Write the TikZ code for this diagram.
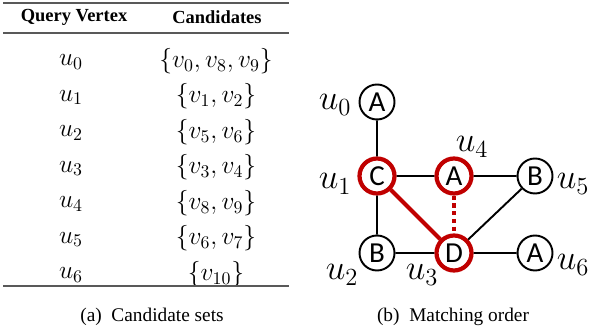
\RequirePackage{fix-cm}
\documentclass[tikz,border=0pt]{standalone}
\usepackage{fontspec}
\setmainfont{Liberation Serif}
\newfontfamily\nodefont{Carlito}
\usetikzlibrary{positioning,calc}
\definecolor{hitred}{RGB}{192,0,0}

\begin{document}
\begin{tikzpicture}[x=0.2mm,y=-0.2mm,
  vert/.style={circle,draw=black,line width=1.1pt,minimum size=7mm,inner sep=0pt,font=\nodefont\fontsize{16.5}{18}\selectfont},
  hit/.style={vert,draw=hitred,line width=2.4pt},
  lbl/.style={inner sep=0pt,font=\fontsize{20}{22}\selectfont},
  cell/.style={inner sep=0pt,font=\fontsize{14.5}{16}\selectfont},
  head/.style={inner sep=0pt,font=\fontsize{10.5}{12}\selectfont\bfseries},
  capt/.style={inner sep=0pt,font=\fontsize{11}{13}\selectfont},
  rule/.style={draw=black!65,line width=0.9pt}]
\useasboundingbox (0,0) rectangle (590,333);
% (a) candidate table
\draw[rule] (3,3)--(289,3);
\node[head] (hq) at (74,17) {Query Vertex};
\node[head] (hc) at (217,17) {Candidates};
\draw[rule,line width=0.6pt] (3,33)--(289,33);
\foreach \i/\cand in {0/{v_0,v_8,v_9},1/{v_1,v_2},2/{v_5,v_6},3/{v_3,v_4},4/{v_8,v_9},5/{v_6,v_7},6/{v_{10}}}{\node[cell] (q\i) at (71,62+\i*35.5) {$u_\i$};\node[cell] (c\i) at (216,61+\i*35.5) {$\{\cand\}$};}
\draw[rule] (3,286)--(289,286);
\node[capt] (capa) at (152,317) {(a)\enspace Candidate sets};
% (b) matching order
\node[vert] (n0) at (377,102) {A};
\node[hit] (n1) at (377,176) {C};
\node[vert] (n2) at (377,253) {B};
\node[hit] (n3) at (454,253) {D};
\node[hit] (n4) at (454,176) {A};
\node[vert] (n5) at (535,176) {B};
\node[vert] (n6) at (535,253) {A};
\node[lbl] (l0) at (335,105) {$u_0$};
\node[lbl] (l1) at (335,184) {$u_1$};
\node[lbl] (l2) at (342,275) {$u_2$};
\node[lbl] (l3) at (422,275) {$u_3$};
\node[lbl] (l4) at (472,147) {$u_4$};
\node[lbl] (l5) at (573,184) {$u_5$};
\node[lbl] (l6) at (573,265) {$u_6$};
\draw[line width=1.1pt] (n0)--(n1) (n1)--(n4) (n4)--(n5) (n1)--(n2) (n2)--(n3) (n3)--(n6) (n3)--(n5);
\draw[hitred,line width=2.3pt] (n1)--(n3);
\draw[hitred,line width=2.6pt,dash pattern=on 2.4pt off 2pt] (n4)--(n3);
\node[capt] (capb) at (453,317) {(b)\enspace Matching order};
\end{tikzpicture}
\end{document}
